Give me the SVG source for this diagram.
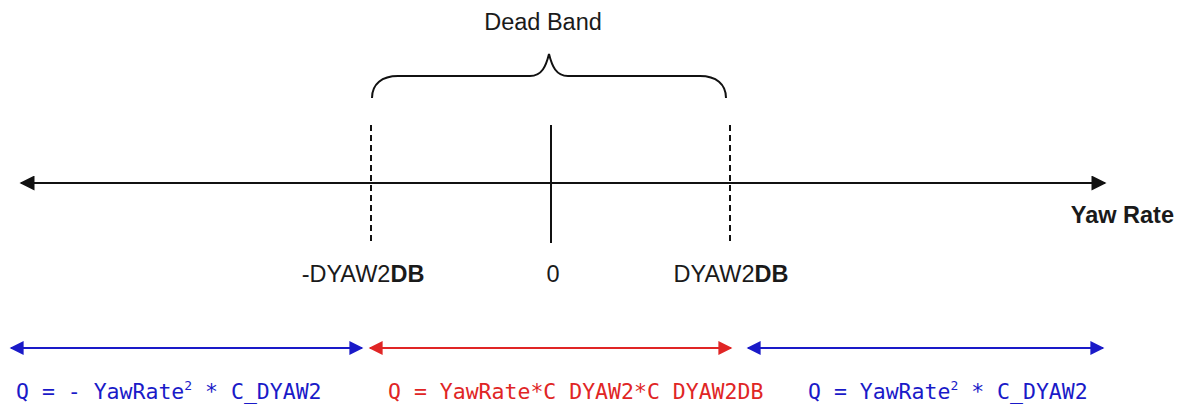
<svg xmlns="http://www.w3.org/2000/svg" width="1178" height="407" viewBox="0 0 1178 407">
<style>
.lbl{font-family:"Liberation Sans",Arial,sans-serif;font-size:23.5px;fill:#1a1a1a}
.eq{font-family:"DejaVu Sans Mono","Liberation Mono",monospace;font-size:21.5px}
.blue{fill:#1a1ac8}
.red{fill:#e02525}
.sup{font-size:13px}
</style>
<defs>
<marker id="ak" viewBox="0 0 10 10" refX="9" refY="5" markerWidth="19" markerHeight="15" markerUnits="userSpaceOnUse" orient="auto-start-reverse"><path d="M0,0 L10,5 L0,10 z" fill="#111"/></marker>
<marker id="ab" viewBox="0 0 10 10" refX="9" refY="5" markerWidth="19" markerHeight="14" markerUnits="userSpaceOnUse" orient="auto-start-reverse"><path d="M0,0 L10,5 L0,10 z" fill="#1a1ac8"/></marker>
<marker id="ar" viewBox="0 0 10 10" refX="9" refY="5" markerWidth="19" markerHeight="14" markerUnits="userSpaceOnUse" orient="auto-start-reverse"><path d="M0,0 L10,5 L0,10 z" fill="#e02525"/></marker>
</defs>
<rect width="1178" height="407" fill="#fff"/>
<g id="connectors">
<line x1="21" y1="183" x2="1105" y2="183" stroke="#111" stroke-width="2" marker-start="url(#ak)" marker-end="url(#ak)"/>
<line x1="371" y1="125" x2="371" y2="244" stroke="#111" stroke-width="2" stroke-dasharray="6,4"/>
<line x1="730" y1="125" x2="730" y2="244" stroke="#111" stroke-width="2" stroke-dasharray="6,4"/>
<line x1="551" y1="125" x2="551" y2="243" stroke="#111" stroke-width="2"/>
<path d="M372,98 C372,84 382,76 398,76 L530,76 C542,76 546,66 549,54 C552,66 556,76 568,76 L700,76 C716,76 726,84 726,98" fill="none" stroke="#111" stroke-width="2"/>
<line x1="11" y1="348" x2="362" y2="348" stroke="#1a1ac8" stroke-width="2" marker-start="url(#ab)" marker-end="url(#ab)"/>
<line x1="370" y1="348" x2="731" y2="348" stroke="#e02525" stroke-width="2" marker-start="url(#ar)" marker-end="url(#ar)"/>
<line x1="748" y1="348" x2="1103" y2="348" stroke="#1a1ac8" stroke-width="2" marker-start="url(#ab)" marker-end="url(#ab)"/>
</g>
<g id="dead-band"><text class="lbl" x="543" y="30" text-anchor="middle">Dead Band</text></g>
<g id="yaw-rate"><text class="lbl" x="1174" y="223" text-anchor="end" font-weight="bold" font-size="24">Yaw Rate</text></g>
<g id="neg-db"><text class="lbl" x="363" y="282" text-anchor="middle">-DYAW2<tspan font-weight="bold">DB</tspan></text></g>
<g id="zero"><text class="lbl" x="553" y="282" text-anchor="middle">0</text></g>
<g id="pos-db"><text class="lbl" x="731" y="282" text-anchor="middle">DYAW2<tspan font-weight="bold">DB</tspan></text></g>
<g id="eq-left"><text class="eq blue" x="16" y="399" xml:space="preserve">Q = - YawRate<tspan class="sup" dy="-9">2</tspan><tspan dy="9"> * C_DYAW2</tspan></text></g>
<g id="eq-mid"><text class="eq red" x="388" y="399" xml:space="preserve">Q = YawRate*C DYAW2*C DYAW2DB</text></g>
<g id="eq-right"><text class="eq blue" x="808" y="399" xml:space="preserve">Q = YawRate<tspan class="sup" dy="-9">2</tspan><tspan dy="9"> * C_DYAW2</tspan></text></g>
</svg>
